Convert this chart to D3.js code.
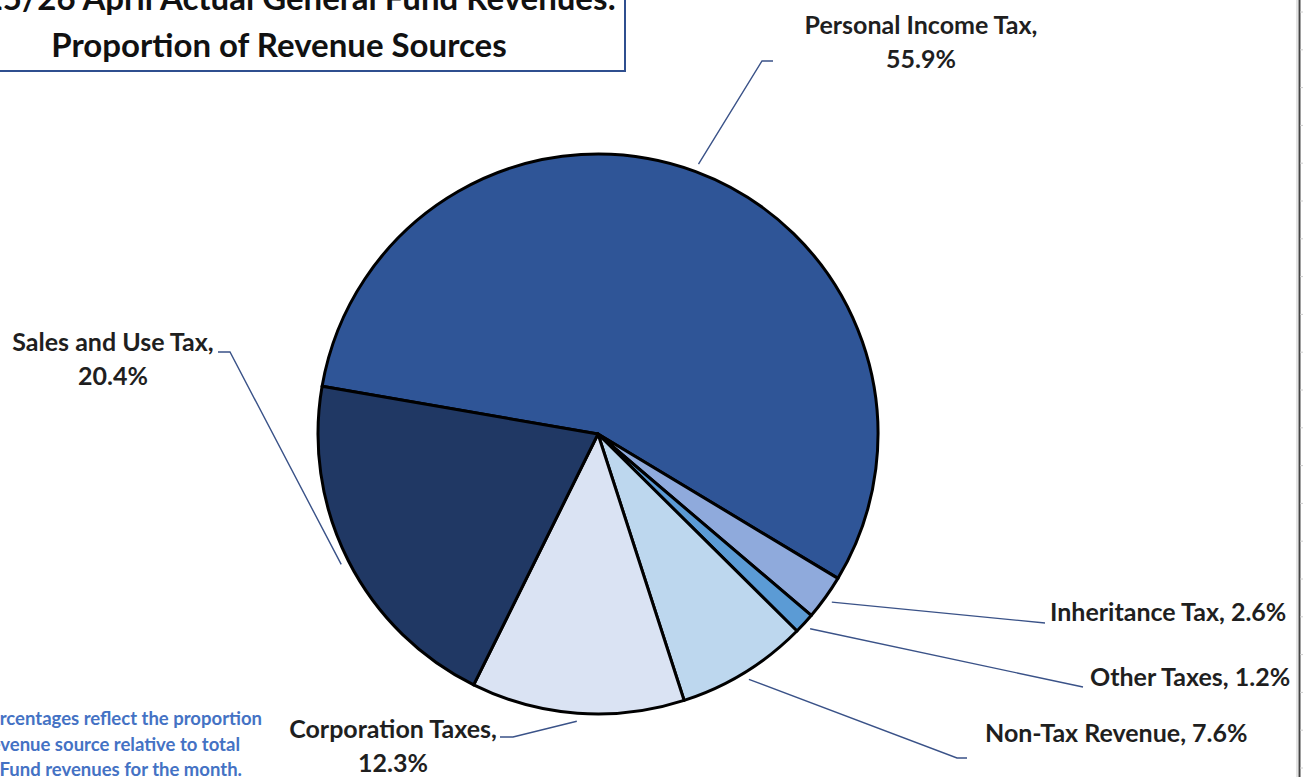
<!DOCTYPE html>
<html>
<head>
<meta charset="utf-8">
<script src="https://cdn.jsdelivr.net/npm/d3@7"></script>
<style>
  body { margin: 0; background: #fff; }
  svg { display: block; }
</style>
</head>
<body>
<script>
// revenue sources, clockwise from the Sales / Personal Income boundary
var sources = ["Personal Income Tax", "Inheritance Tax", "Other Taxes", "Non-Tax Revenue", "Corporation Taxes", "Sales and Use Tax"];
var shares = [55.9, 2.6, 1.2, 7.6, 12.3, 20.4];
var fills = ["#2F5597", "#8FAADC", "#5B9BD5", "#BDD7EE", "#DAE3F3", "#203864"];

var titleLines = ["FY 2025/26 April Actual General Fund Revenues:", "Proportion of Revenue Sources"];
var noteLines = ["Note: Percentages reflect the proportion", "of each revenue source relative to total", "General Fund revenues for the month."];

var width = 1310;
var height = 777;
var cx = 598, cy = 434, radius = 280;
var font = "Lato, 'Open Sans', sans-serif";

// label placement (layout only)
var labelLayout = {
    "Personal Income Tax": { x: 921, y: 34, anchor: "middle", split: true, path: [[762, 61], [773, 61]] },
    "Inheritance Tax": { x: 1050, y: 621, anchor: "start", split: false, path: [[1045, 623]] },
    "Other Taxes": { x: 1090, y: 686, anchor: "start", split: false, path: [[1083, 687]] },
    "Non-Tax Revenue": { x: 985, y: 742, anchor: "start", split: false, path: [[957, 758], [967, 758]] },
    "Corporation Taxes": { x: 393, y: 738, anchor: "middle", split: true, path: [[513, 737], [500, 737]] },
    "Sales and Use Tax": { x: 113, y: 351, anchor: "middle", split: true, path: [[230, 352], [218, 352]] }
};

var svg = d3.select('body')
    .append('svg')
    .attr('width', width)
    .attr('height', height);

// page edge on the right
svg.append('line')
    .attr('x1', 1297).attr('x2', 1297).attr('y1', 0).attr('y2', height)
    .attr('stroke', '#c8c8c8').attr('stroke-width', 1);
svg.append('line')
    .attr('x1', 1299.5).attr('x2', 1299.5).attr('y1', 0).attr('y2', height)
    .attr('stroke', '#444').attr('stroke-width', 2);
svg.selectAll('.tick')
    .data(d3.range(12, height, 37.8))
    .enter().append('line')
    .attr('class', 'tick')
    .attr('x1', 1300).attr('x2', 1303)
    .attr('y1', d => d).attr('y2', d => d)
    .attr('stroke', '#ccc').attr('stroke-width', 1);

// pie
var data = sources.map((s, i) => ({ name: s, value: shares[i], fill: fills[i] }));

var pie = d3.pie()
    .sort(null)
    .value(d => d.value)
    .startAngle(-80.2 * Math.PI / 180)
    .endAngle(279.8 * Math.PI / 180);

var arc = d3.arc()
    .innerRadius(0)
    .outerRadius(radius);

var arcs = pie(data);

var g = svg.append('g')
    .attr('transform', 'translate(' + cx + ',' + cy + ')');

g.selectAll('path')
    .data(arcs)
    .enter().append('path')
    .attr('d', arc)
    .attr('fill', d => d.data.fill)
    .attr('stroke', '#000')
    .attr('stroke-width', 3)
    .attr('stroke-linejoin', 'round');

// leader lines
var line = d3.line();
svg.selectAll('.leader')
    .data(arcs)
    .enter().append('path')
    .attr('class', 'leader')
    .attr('fill', 'none')
    .attr('stroke', '#3A5288')
    .attr('stroke-width', 1.4)
    .attr('d', function (d) {
        var mid = (d.startAngle + d.endAngle) / 2;
        var r = radius + 8;
        var start = [cx + r * Math.sin(mid), cy - r * Math.cos(mid)];
        return line([start].concat(labelLayout[d.data.name].path));
    });

// labels
var labels = svg.selectAll('.label')
    .data(arcs)
    .enter().append('text')
    .attr('class', 'label')
    .attr('font-family', font)
    .attr('font-weight', 'bold')
    .attr('font-size', 25)
    .attr('fill', '#1f1f1f')
    .attr('text-anchor', d => labelLayout[d.data.name].anchor)
    .attr('x', d => labelLayout[d.data.name].x)
    .attr('y', d => labelLayout[d.data.name].y);

labels.each(function (d) {
    var L = labelLayout[d.data.name];
    var pct = d.data.value.toFixed(1) + '%';
    var t = d3.select(this);
    if (L.split) {
        t.append('tspan').attr('x', L.x).text(d.data.name + ',');
        t.append('tspan').attr('x', L.x).attr('dy', 34).text(pct);
    } else {
        t.text(d.data.name + ', ' + pct);
    }
});

// title box
svg.append('rect')
    .attr('x', -10).attr('y', -10)
    .attr('width', 635).attr('height', 81)
    .attr('fill', '#fff')
    .attr('stroke', '#2F4F8F')
    .attr('stroke-width', 2);

svg.append('text')
    .attr('font-family', font).attr('font-weight', 'bold').attr('font-size', 33)
    .attr('fill', '#111')
    .attr('text-anchor', 'end')
    .attr('x', 616).attr('y', 10)
    .text(titleLines[0]);
svg.append('text')
    .attr('font-family', font).attr('font-weight', 'bold').attr('font-size', 33)
    .attr('fill', '#111')
    .attr('text-anchor', 'middle')
    .attr('x', 279).attr('y', 57)
    .text(titleLines[1]);

// note
var noteEnds = [262, 240, 242];
svg.selectAll('.note')
    .data(noteLines)
    .enter().append('text')
    .attr('class', 'note')
    .attr('font-family', font).attr('font-weight', 'bold').attr('font-size', 18.5)
    .attr('fill', '#4472C4')
    .attr('text-anchor', 'end')
    .attr('x', (d, i) => noteEnds[i])
    .attr('y', (d, i) => 725 + i * 25.5)
    .text(d => d);
</script>
</body>
</html>
